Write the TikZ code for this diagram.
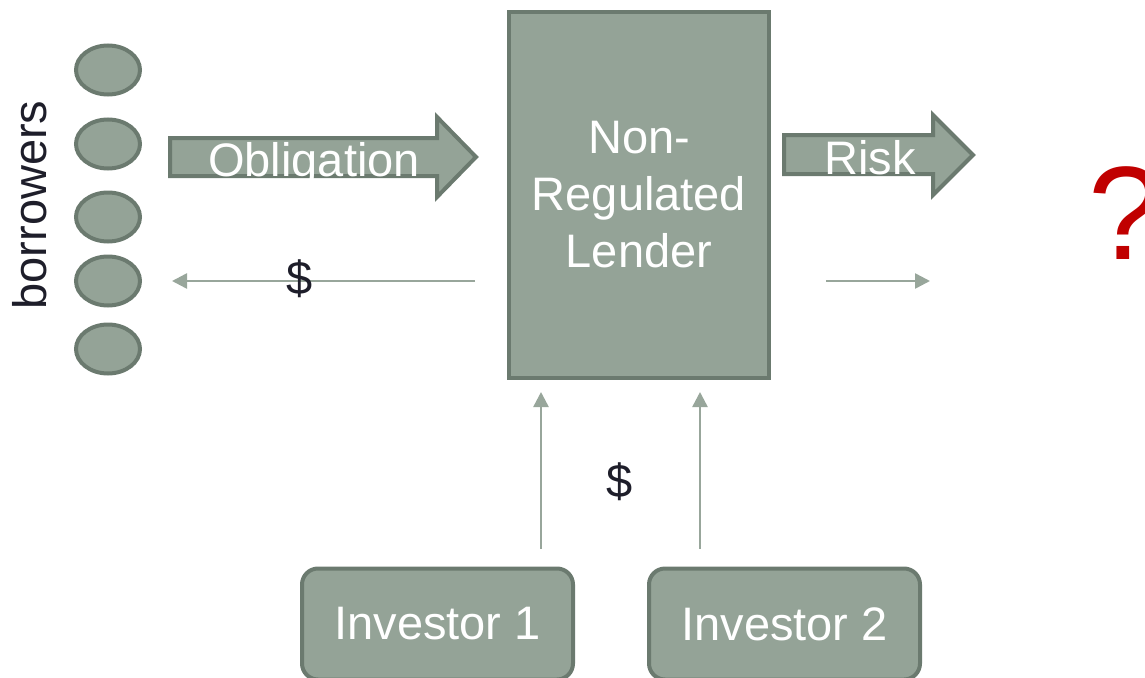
\documentclass[tikz,border=0pt]{standalone}
\usepackage{fontspec}
\setmainfont{Liberation Sans}
\usetikzlibrary{shapes.geometric, positioning, arrows.meta}

\definecolor{boxfill}{RGB}{148,163,151}
\definecolor{boxline}{RGB}{107,122,111}
\definecolor{cashline}{RGB}{152,166,155}
\definecolor{inkdark}{RGB}{30,30,42}
\definecolor{qred}{RGB}{192,0,0}

\begin{document}
\begin{tikzpicture}[x=1pt, y=-1pt,
        borrower/.style={ellipse, draw=boxline, fill=boxfill, line width=4pt,
            minimum width=64pt, minimum height=49pt, inner sep=0pt},
        lenderbox/.style={rectangle, draw=boxline, fill=boxfill, line width=4pt,
            minimum width=260pt, minimum height=366pt, text=white, align=center,
            font=\fontsize{47}{57}\selectfont},
        party/.style={rectangle, rounded corners=16pt, draw=boxline, fill=boxfill,
            line width=4pt, minimum width=271pt, minimum height=111pt, text=white,
            font=\fontsize{47}{57}\selectfont},
        bigarrow/.style={draw=boxline, fill=boxfill, line width=4pt, line join=miter},
        onarrow/.style={text=white, inner sep=0pt, anchor=base,
            font=\fontsize{47}{57}\selectfont},
        plain/.style={text=inkdark, inner sep=0pt, font=\fontsize{47}{57}\selectfont},
        cash/.style={draw=cashline, line width=2.5pt, -{Triangle[length=15pt, width=15pt]}}]
        \useasboundingbox (0,0) rectangle (1145,677);

        % borrowers
        \node[borrower] (b1) at (108,70) {};
        \node[borrower] (b2) at (108,144) {};
        \node[borrower] (b3) at (108,217) {};
        \node[borrower] (b4) at (108,281) {};
        \node[borrower] (b5) at (108,349) {};
        \node[plain, rotate=90] (borr) at (30,205) {borrowers};

        % lender and investors
        \node[lenderbox] (lender) at (639,195) {Non-\\Regulated\\Lender};
        \node[party] (inv1) at (437.5,624) {Investor 1};
        \node[party, right=72pt of inv1] (inv2) {Investor 2};

        % block arrows
        \draw[bigarrow] (170,138) -- (437,138) -- (437,117) -- (476,157)
            -- (437,197) -- (437,176) -- (170,176) -- cycle;
        \node[onarrow] (oblig) at (314,176) {Obligation};
        \draw[bigarrow] (784,135) -- (933,135) -- (933,115) -- (973,155)
            -- (933,195) -- (933,174) -- (784,174) -- cycle;
        \node[onarrow] (risk) at (870,174) {Risk};

        % money flows
        \coordinate (buyer) at (930,281);
        \draw[cash, shorten <=32pt, shorten >=30pt] (lender.west |- b4) -- (b4.east);
        \draw[cash, shorten <=55pt] (lender.east |- buyer) -- (buyer);
        \draw[cash, shorten <=18pt, shorten >=12pt]
            ([xshift=103.5pt]inv1.north) -- ([xshift=103.5pt]inv1.north |- lender.south);
        \draw[cash, shorten <=18pt, shorten >=12pt]
            ([xshift=-84.5pt]inv2.north) -- ([xshift=-84.5pt]inv2.north |- lender.south);
        \node[plain] (paid) at (300,279) {\$};
        \node[plain] (funds) at (620,482) {\$};

        \node[anchor=base west, inner sep=0pt, text=qred,
            font=\fontsize{133}{133}\selectfont] (unknown) at (1088,259) {?};
\end{tikzpicture}
\end{document}
